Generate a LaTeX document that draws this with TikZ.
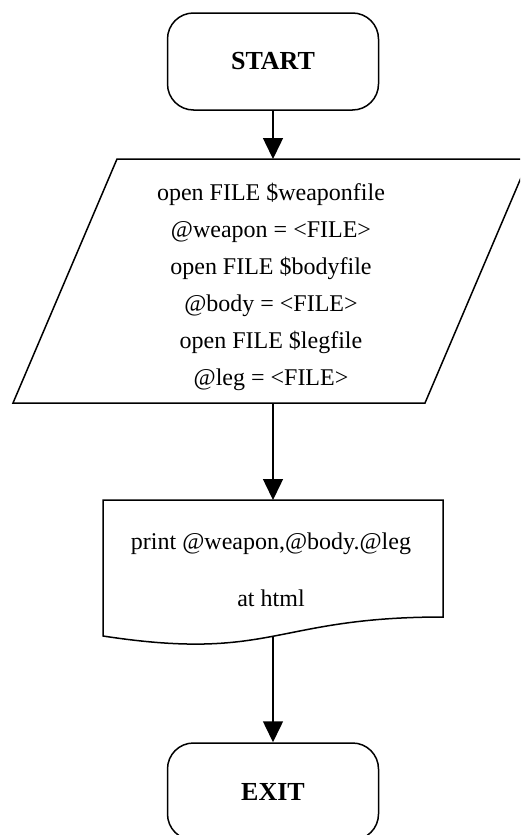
\documentclass[tikz,border=0pt]{standalone}
\usepackage{fontspec}
\setmainfont{Liberation Serif}
\usetikzlibrary{arrows.meta}

\tikzset{
  outline/.style={draw=black, line width=1.5pt, line join=miter},
  terminal/.style={outline, rounded corners=26pt, minimum width=211pt,
    minimum height=97pt, inner sep=0pt,
    font=\fontsize{26}{30}\selectfont\bfseries},
  body/.style={align=center, inner sep=0pt},
  flow/.style={draw=black, line width=1.5pt,
    -{Triangle[length=21pt, width=20pt]}},
}

\begin{document}
\begin{tikzpicture}[x=1pt, y=-1pt]
  \useasboundingbox (0,0) rectangle (520,835);
  \clip (0,0) rectangle (520,835);

  % terminal: start
  \node[terminal] (start) at (273,61.5) {START};

  % input/output parallelogram (right corner runs off the page)
  \draw[outline] (117,159) -- (529,159) -- (425,403) -- (13,403) -- cycle;
  \coordinate (ioTop) at (273,159);
  \coordinate (ioBot) at (273,403);
  \node[body, font=\fontsize{24}{37}\selectfont] (io) at (271,287)
    {open FILE \$weaponfile\\
     @weapon = <FILE>\\
     open FILE \$bodyfile\\
     @body = <FILE>\\
     open FILE \$legfile\\
     @leg = <FILE>};

  % document shape with wavy bottom edge
  \draw[outline] (103,500) -- (443,500) -- (443,617)
    .. controls (273,617) and (273,662) .. (103,636) -- cycle;
  \coordinate (docTop) at (273,500);
  \coordinate (docBot) at (273,636);
  \node[body, font=\fontsize{24}{57}\selectfont] (doc) at (271,570)
    {print @weapon,@body.@leg\\ at html};

  % terminal: exit
  \node[terminal] (exit) at (273,791.5) {EXIT};

  % connectors
  \draw[flow] (start.south) -- (ioTop);
  \draw[flow] (ioBot) -- (docTop);
  \draw[flow] (docBot) -- (exit.north);
\end{tikzpicture}
\end{document}
